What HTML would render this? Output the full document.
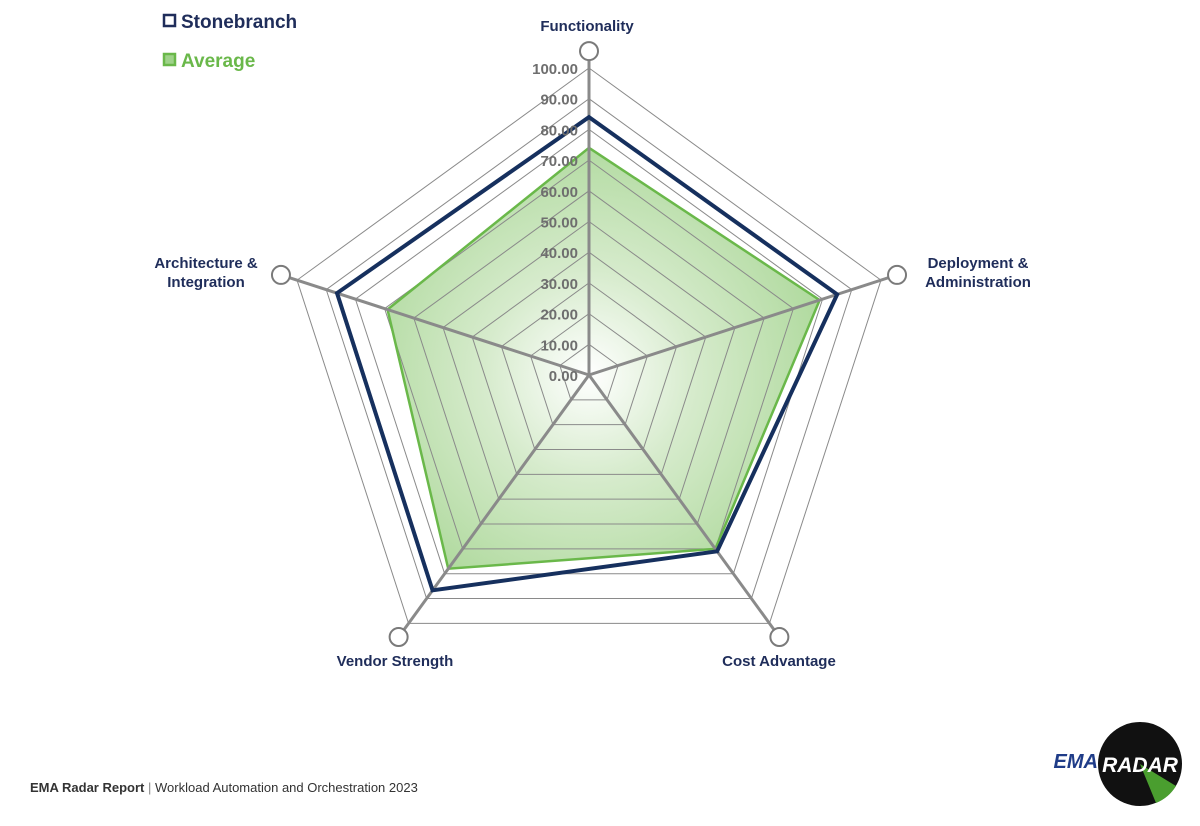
<!DOCTYPE html>
<html><head><style>
body{margin:0;background:#fff;width:1200px;height:821px;overflow:hidden;font-family:"Liberation Sans",sans-serif}
</style></head><body>
<svg width="1200" height="821" viewBox="0 0 1200 821" xmlns="http://www.w3.org/2000/svg">
<defs>
<radialGradient id="g" cx="589" cy="375" r="300" gradientUnits="userSpaceOnUse">
<stop offset="0" stop-color="#ffffff"/><stop offset="0.35" stop-color="#d6ebcc"/><stop offset="1" stop-color="#9fd28a"/>
</radialGradient>
</defs>
<g id="chart"></g>
<text x="587" y="31" font-size="15" font-weight="bold" fill="#1f2d5a" text-anchor="middle">Functionality</text>
<text x="978" y="268" font-size="15" font-weight="bold" fill="#1f2d5a" text-anchor="middle">Deployment &amp;</text>
<text x="978" y="287" font-size="15" font-weight="bold" fill="#1f2d5a" text-anchor="middle">Administration</text>
<text x="206" y="268" font-size="15" font-weight="bold" fill="#1f2d5a" text-anchor="middle">Architecture &amp;</text>
<text x="206" y="287" font-size="15" font-weight="bold" fill="#1f2d5a" text-anchor="middle">Integration</text>
<text x="395" y="666" font-size="15" font-weight="bold" fill="#1f2d5a" text-anchor="middle">Vendor Strength</text>
<text x="779" y="666" font-size="15" font-weight="bold" fill="#1f2d5a" text-anchor="middle">Cost Advantage</text>
<rect x="164" y="15" width="11" height="11" fill="none" stroke="#1f2d5a" stroke-width="2.5"/>
<text x="181" y="28" font-size="19" font-weight="bold" fill="#1f2d5a">Stonebranch</text>
<rect x="164" y="54" width="11" height="11" fill="#9fd28a" stroke="#6ab84a" stroke-width="2.5"/>
<text x="181" y="67" font-size="19" font-weight="bold" fill="#6ab84a">Average</text>
<text x="30" y="792" font-size="13" fill="#333"><tspan font-weight="bold">EMA Radar Report</tspan> <tspan fill="#888">|</tspan> Workload Automation and Orchestration 2023</text>
<text x="1098" y="768" font-size="20" font-weight="bold" font-style="italic" fill="#1f3c88" text-anchor="end">EMA</text>
<circle cx="1140" cy="764" r="42" fill="#111"/>
<path d="M1140 764 L1176 786 A42 42 0 0 1 1156 803 Z" fill="#4a9e2f"/>
<text x="1140" y="772" font-size="21" font-weight="bold" font-style="italic" fill="#fff" text-anchor="middle">RADAR</text>
</svg>
<script>
const cx=589,cy=375,R=307,ns="http://www.w3.org/2000/svg",g=document.getElementById("chart");
const ang=[-90,-18,54,126,198].map(a=>a*Math.PI/180);
function pt(i,v){return [cx+R*v*Math.cos(ang[i]),cy+R*v*Math.sin(ang[i])];}
function poly(vals,attrs){const p=document.createElementNS(ns,"polygon");p.setAttribute("points",vals.map((v,i)=>pt(i,v).join(",")).join(" "));for(const k in attrs)p.setAttribute(k,attrs[k]);g.appendChild(p);}
function el(t,a){const e=document.createElementNS(ns,t);for(const k in a)e.setAttribute(k,a[k]);g.appendChild(e);return e;}
poly([0.74,0.79,0.70,0.78,0.69],{fill:"url(#g)",stroke:"none"});
for(let k=1;k<=10;k++)poly([k/10,k/10,k/10,k/10,k/10],{fill:"none",stroke:"#8a8a8a","stroke-width":1});
poly([0.74,0.79,0.70,0.78,0.69],{fill:"none",stroke:"#6ab84a","stroke-width":2.5});
for(let i=0;i<5;i++){const p=pt(i,1.03);el("line",{x1:cx,y1:cy,x2:p[0],y2:p[1],stroke:"#8a8a8a","stroke-width":3});}
poly([0.84,0.85,0.71,0.867,0.863],{fill:"none",stroke:"#16305e","stroke-width":4,"stroke-linejoin":"miter"});
for(let i=0;i<5;i++){const p=pt(i,1.055);el("circle",{cx:p[0],cy:p[1],r:9,fill:"#fff",stroke:"#7a7a7a","stroke-width":2});}
for(let k=0;k<=10;k++){const t=el("text",{x:578,y:cy-R*k/10+6,"font-size":15,"font-weight":"bold",fill:"#6e6e6e","text-anchor":"end"});t.textContent=(k*10).toFixed(2);}
</script>
</body></html>
